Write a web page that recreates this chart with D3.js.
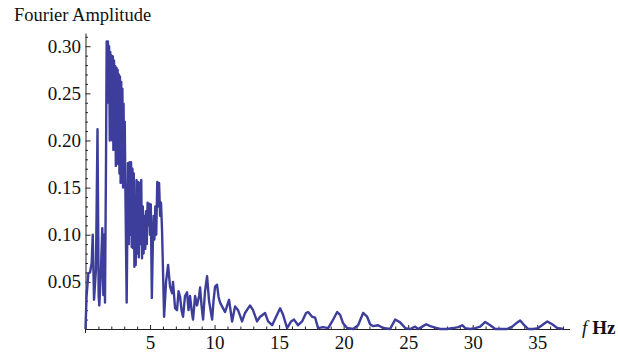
<!DOCTYPE html>
<html>
<head>
<meta charset="utf-8">
<script src="https://cdn.jsdelivr.net/npm/d3@7"></script>
<style>
  body { margin: 0; background: #fff; }
  svg { display: block; }
  .axis path, .axis line { stroke: #222; stroke-width: 1; }
  .spectrum { fill: none; stroke: #3d3d9b; stroke-width: 2.4; stroke-linejoin: round; }
</style>
</head>
<body>
<svg id="chart" width="618" height="352"></svg>
<script>
// frequency (Hz) and Fourier amplitude
const freq = [
  0.00, 0.08, 0.22, 0.35, 0.48, 0.56, 0.66, 0.81, 0.93, 1.02, 1.07, 1.19, 1.30, 1.38, 1.45, 1.51,
  1.59, 1.64, 1.69, 1.74, 1.78, 1.83, 1.88, 1.92, 1.98, 2.02, 2.07, 2.12, 2.16, 2.21, 2.26, 2.30,
  2.35, 2.40, 2.44, 2.49, 2.53, 2.58, 2.63, 2.67, 2.72, 2.77, 2.81, 2.86, 2.91, 2.95, 2.99, 3.04,
  3.09, 3.19, 3.29, 3.35, 3.41, 3.47, 3.53, 3.58, 3.64, 3.68, 3.74, 3.79, 3.84, 3.89,
  3.95, 4.01, 4.07, 4.13, 4.19, 4.26, 4.32, 4.38, 4.44, 4.50, 4.57, 4.63, 4.69, 4.75, 4.81, 4.88,
  4.94, 5.00, 5.06, 5.14, 5.22, 5.28, 5.34, 5.41, 5.48, 5.56, 5.62, 5.70, 5.78, 5.85, 5.93, 6.09,
  6.24, 6.40, 6.55, 6.71, 6.78, 6.94, 7.09, 7.21, 7.33, 7.44, 7.56, 7.71, 7.87, 7.98, 8.10, 8.22,
  8.33, 8.49, 8.64, 8.80, 8.88, 8.99, 9.11, 9.26, 9.42, 9.57, 9.69, 9.81, 9.92, 10.04, 10.19, 10.31,
  10.43, 10.58, 10.81, 11.12, 11.36, 11.59, 11.82, 12.13, 12.36, 12.75, 12.98, 13.29, 13.53, 13.91,
  14.15, 14.46, 14.84, 15.08, 15.31, 15.62, 15.93, 16.16, 16.47, 16.78, 17.09, 17.25, 17.56, 17.79,
  18.02, 18.41, 18.80, 19.11, 19.50, 19.73, 19.96, 20.27, 20.74, 21.12, 21.51, 21.82, 22.05, 22.29,
  22.67, 23.06, 23.60, 23.99, 24.38, 24.77, 25.16, 25.54, 25.78, 26.09, 26.40, 26.71, 27.09, 27.48,
  28.02, 28.49, 28.88, 29.19, 29.42, 29.81, 30.19, 30.58, 30.97, 31.36, 31.74, 32.13, 32.67, 33.06,
  33.37, 33.68, 33.99, 34.30, 34.69, 35.08, 35.47, 35.78, 36.16, 36.55, 37.02
];
const amp = [
  0.000, 0.034, 0.059, 0.060, 0.070, 0.100, 0.031, 0.063, 0.212, 0.035, 0.025, 0.060, 0.107, 0.036, 0.100, 0.028,
  0.180, 0.305, 0.240, 0.305, 0.246, 0.300, 0.200, 0.294, 0.215, 0.290, 0.200, 0.289, 0.190, 0.285, 0.205, 0.279,
  0.173, 0.277, 0.185, 0.275, 0.175, 0.270, 0.165, 0.268, 0.155, 0.262, 0.160, 0.255, 0.150, 0.239, 0.160, 0.220,
  0.148, 0.028, 0.176, 0.090, 0.177, 0.100, 0.177, 0.087, 0.170, 0.086, 0.165, 0.066, 0.120, 0.068,
  0.158, 0.080, 0.156, 0.076, 0.155, 0.090, 0.158, 0.075, 0.130, 0.080, 0.120, 0.085, 0.125, 0.090, 0.134, 0.110,
  0.133, 0.100, 0.132, 0.033, 0.092, 0.120, 0.095, 0.130, 0.100, 0.156, 0.130, 0.155, 0.120, 0.134, 0.105, 0.013,
  0.050, 0.068, 0.045, 0.038, 0.050, 0.022, 0.020, 0.040, 0.034, 0.020, 0.013, 0.035, 0.039, 0.020, 0.035, 0.020,
  0.010, 0.035, 0.025, 0.035, 0.044, 0.025, 0.010, 0.040, 0.056, 0.030, 0.020, 0.010, 0.030, 0.045, 0.047, 0.034,
  0.028, 0.024, 0.018, 0.031, 0.008, 0.024, 0.020, 0.008, 0.017, 0.025, 0.020, 0.008, 0.013, 0.017,
  0.008, 0.004, 0.015, 0.022, 0.015, 0.001, 0.008, 0.010, 0.004, 0.008, 0.017, 0.018, 0.013, 0.012,
  0.001, 0.002, 0.001, 0.008, 0.018, 0.015, 0.006, 0.001, 0.000, 0.004, 0.017, 0.013, 0.005, 0.003,
  0.004, 0.001, 0.000, 0.010, 0.007, 0.001, 0.000, 0.0025, 0.000, 0.0025, 0.005, 0.003, 0.0015, 0.000,
  0.000, 0.001, 0.002, 0.004, 0.001, 0.000, 0.001, 0.0025, 0.0075, 0.004, 0.000, 0.000, 0.000, 0.0025,
  0.006, 0.009, 0.004, 0.000, 0.000, 0.001, 0.005, 0.008, 0.005, 0.001, 0.000
];

const xTicks = [5, 10, 15, 20, 25, 30, 35];
const yTicks = [0.05, 0.10, 0.15, 0.20, 0.25, 0.30];
const xMinor = d3.range(1, 38).filter(v => v % 5 !== 0);
const yMinor = d3.range(1, 32).filter(v => v % 5 !== 0).map(v => v / 100);

const yLabel = 'Fourier Amplitude';
const xLabelVar = 'f';
const xLabelUnit = 'Hz';

// region size
const x0 = 85.5, x1 = 569.5;
const y0 = 329, y1 = 33;
// endregion

const serif = "'Liberation Serif', 'Times New Roman', serif";

const x = d3.scaleLinear().domain([0, 37.5]).range([x0, x1]);
const y = d3.scaleLinear().domain([0, 0.314]).range([y0, y1]);

const svg = d3.select('#chart');

// axes
const xAxisG = svg.append('g')
  .attr('class', 'axis')
  .attr('transform', 'translate(0,' + y0 + ')')
  .call(d3.axisBottom(x).tickValues(xTicks).tickSize(-4).tickSizeOuter(0).tickPadding(7).tickFormat(d3.format('d')));

svg.append('g')
  .attr('class', 'axis')
  .attr('transform', 'translate(0,' + y0 + ')')
  .call(d3.axisBottom(x).tickValues(xMinor).tickSize(-2.5).tickSizeOuter(0).tickFormat(''))
  .select('.domain').remove();

const yAxisG = svg.append('g')
  .attr('class', 'axis')
  .attr('transform', 'translate(' + x0 + ',0)')
  .call(d3.axisLeft(y).tickValues(yTicks).tickSize(-5).tickSizeOuter(0).tickPadding(4.5).tickFormat(d3.format('.2f')));

svg.append('g')
  .attr('class', 'axis')
  .attr('transform', 'translate(' + x0 + ',0)')
  .call(d3.axisLeft(y).tickValues(yMinor).tickSize(-2.5).tickSizeOuter(0).tickFormat(''))
  .select('.domain').remove();

[xAxisG, yAxisG].forEach(g => {
  g.attr('font-family', null).attr('font-size', null);
  g.selectAll('text')
    .style('font-family', serif)
    .style('font-size', '19px')
    .attr('fill', '#111');
});

// y axis dips a little below the origin
svg.append('line')
  .attr('x1', x0).attr('x2', x0)
  .attr('y1', y0).attr('y2', y0 + 4)
  .attr('stroke', '#222');

// spectrum
const points = freq.map((f, i) => [f, amp[i]]);
svg.append('path')
  .datum(points)
  .attr('class', 'spectrum')
  .attr('d', d3.line().x(d => x(d[0])).y(d => y(d[1])));

// labels
svg.append('text')
  .attr('x', 14)
  .attr('y', 21)
  .style('font-family', serif)
  .style('font-size', '18.5px')
  .attr('fill', '#111')
  .text(yLabel);

const xl = svg.append('text')
  .attr('x', 582)
  .attr('y', 334)
  .style('font-family', serif)
  .style('font-size', '19px')
  .attr('fill', '#111');
xl.append('tspan').style('font-style', 'italic').text(xLabelVar);
xl.append('tspan').attr('dx', 5).style('font-weight', 'bold').text(xLabelUnit);
</script>
</body>
</html>
